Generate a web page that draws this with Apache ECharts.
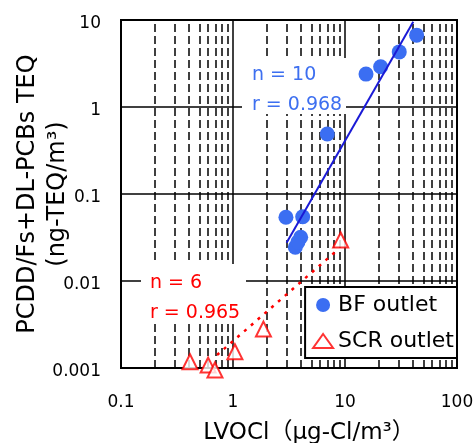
<!DOCTYPE html>
<html>
<head>
<meta charset="utf-8">
<script src="https://cdn.jsdelivr.net/npm/echarts@6/dist/echarts.min.js"></script>
<style>html,body{margin:0;padding:0;background:#fff}#c{width:475px;height:443px}</style>
</head>
<body>
<div id="c"></div>
<script>
// ---- data ----
const bfX = [43.6, 30.5, 20.8, 15.4, 6.95, 2.97, 4.19, 4.02, 3.6, 3.8];
const bfY = [6.7, 4.3, 2.9, 2.39, 0.49, 0.054, 0.0548, 0.0318, 0.0244, 0.028];
const scrX = [9.15, 1.87, 1.04, 0.413, 0.60, 0.69];
const scrY = [0.0296, 0.0028, 0.00154, 0.00118, 0.00108, 0.00095];
const bfFitX = [3.01, 40.7];
const bfFitY = [0.0275, 9.56];
const scrFitX = [0.72, 8.43];
const scrFitY = [0.00141, 0.0223];
const minorGridX = [0.2,0.3,0.4,0.5,0.6,0.7,0.8,0.9,2,3,4,5,6,7,8,9,20,30,40,50,60,70,80,90];
const xTickLabels = ['0.1', '1', '10', '100'];
const yTickLabels = ['0.001', '0.01', '0.1', '1', '10'];
const seriesNames = ['BF outlet', 'SCR outlet'];
const bfStats = ['n = 10', 'r = 0.968'];
const scrStats = ['n = 6', 'r = 0.965'];

const FONT = '"DejaVu Sans", "Noto Sans CJK JP", sans-serif';
const zip = (a, b) => a.map((v, i) => [v, b[i]]);

const chart = echarts.init(document.getElementById('c'), null, {renderer: 'canvas'});
chart.setOption({
  animation: false,
  backgroundColor: '#fff',
  grid: {left: 121, top: 20, width: 336, height: 348, show: true, borderColor: '#000', borderWidth: 2,
    backgroundColor: 'transparent', containLabel: false, outerBoundsMode: 'none'},
  xAxis: {
    type: 'log', logBase: 10, min: 0.1, max: 100,
    axisLine: {show: false}, axisTick: {show: false},
    splitLine: {show: true, lineStyle: {color: '#000', width: 1.5}},
    axisLabel: {margin: 26, fontFamily: FONT, fontSize: 17, color: '#000',
      formatter: (v, i) => xTickLabels[i]},
    name: 'LVOCl（μg-Cl/m³）', nameLocation: 'middle', nameGap: 54, nameMoveOverlap: false,
    nameTextStyle: {fontFamily: FONT, fontSize: 23, color: '#000', padding: [0, 0, 0, 40]}
  },
  yAxis: {
    type: 'log', logBase: 10, min: 0.001, max: 10,
    axisLine: {show: false}, axisTick: {show: false},
    splitLine: {show: true, lineStyle: {color: '#000', width: 1.5}},
    axisLabel: {margin: 20, fontFamily: FONT, fontSize: 17, color: '#000', verticalAlign: 'top', lineHeight: 8,
      formatter: (v, i) => yTickLabels[i]},
    name: 'PCDD/Fs+DL-PCBs TEQ\n(ng-TEQ/m³)', nameLocation: 'middle', nameGap: 48, nameRotate: 90,
    nameMoveOverlap: false,
    nameTextStyle: {fontFamily: FONT, fontSize: 24, lineHeight: 30, color: '#000', align: 'center'}
  },
  legend: {
    data: seriesNames, orient: 'vertical', right: 18, top: 287, z: 4,
    backgroundColor: '#fff', borderColor: '#000', borderWidth: 2, borderRadius: 0,
    padding: [7, 3, 6, 7], itemGap: 14, itemWidth: 20, itemHeight: 14,
    textStyle: {fontFamily: FONT, fontSize: 22, color: '#000'}
  },
  graphic: {
    z: 3,
    elements: [
      {type: 'rect', z: 3, shape: {x: 242, y: 58, width: 104, height: 56}, style: {fill: '#fff'}},
      {type: 'text', z: 3, z2: 10, x: 252, y: 60, style: {text: bfStats.join('\n'), font: '19px ' + FONT, lineHeight: 30, fill: '#3d6ff0'}},
      {type: 'rect', z: 3, shape: {x: 141, y: 264, width: 105, height: 60}, style: {fill: '#fff'}},
      {type: 'text', z: 3, z2: 10, x: 150, y: 268, style: {text: scrStats.join('\n'), font: '19px ' + FONT, lineHeight: 30, fill: '#ff0000'}}
    ]
  },
  series: [
    {
      name: 'minor', type: 'line', data: [], z: 1, silent: true,
      markLine: {silent: true, z: 1, symbol: 'none', label: {show: false}, animation: false,
        lineStyle: {color: '#000', width: 1.5, type: [8, 4]},
        data: minorGridX.map(v => ({xAxis: v}))}
    },
    {
      name: seriesNames[0], type: 'scatter', z: 5, symbol: 'circle', symbolSize: 15,
      itemStyle: {color: '#3b6ef2', opacity: 1}, data: zip(bfX, bfY)
    },
    {
      name: 'BF fit', type: 'line', z: 6, symbol: 'none', data: zip(bfFitX, bfFitY),
      lineStyle: {color: '#1a1ad6', width: 2}
    },
    {
      name: 'SCR fit', type: 'line', z: 5, symbol: 'none', data: zip(scrFitX, scrFitY),
      lineStyle: {color: '#ff0000', width: 2.5, type: [3, 6]}
    },
    {
      name: seriesNames[1], type: 'scatter', z: 6, symbol: 'triangle', symbolSize: 15, clip: false,
      itemStyle: {color: '#fff', borderColor: '#ff0000', borderWidth: 2}, data: zip(scrX, scrY)
    }
  ]
});
</script>
</body>
</html>
